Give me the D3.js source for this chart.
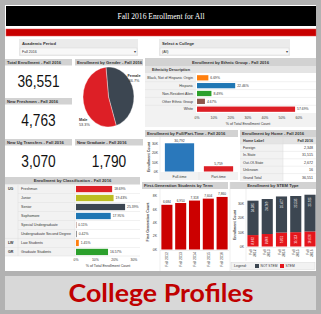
<!DOCTYPE html>
<html><head><meta charset="utf-8">
<script src="https://cdn.jsdelivr.net/npm/d3@7"></script>
<style>body{margin:0;background:#fff}svg{display:block}</style>
</head><body><svg id="c" width="321" height="314"></svg>
<script>
const dashTitle = "Fall 2016 Enrollment for All";
const footerTitle = "College Profiles";
const kpiLabels = ["Total Enrollment - Fall 2016","New Freshmen - Fall 2016","New Ug Transfers - Fall 2016","New Graduate - Fall 2016"];
const kpiValues = [36551, 4763, 3070, 1790];
const genders = ["Female","Male"];
const genderPct = [46.7, 53.3];
const ethnicities = ["Black, Not of Hispanic Origin","Hispanic","Non-Resident Alien","Other Ethnic Group","White"];
const ethnicPct = [6.69, 22.46, 8.49, 4.67, 57.69];
const ethnicTicks = [0,10,20,30,40,50,60];
const attendance = ["Full-time","Part-time"];
const attendanceCount = [30792, 5759];
const homeLabels = ["Foreign","In-State","Out-Of-State","Unknown","Grand Total"];
const homeCounts = [2348, 31515, 2672, 16, 36551];
const classGroups = ["UG","UG","UG","UG","UG","UG","LW","GR"];
const classes = ["Freshman","Junior","Senior","Sophomore","Special Undergraduate","Undergraduate Second Degree","Law Students","Graduate Students"];
const classPct = [18.69, 19.43, 25.39, 17.95, 0.11, 0.42, 1.45, 16.57];
const classTicks = [0,10,20,30];
const terms = ["Fall 2012","Fall 2013","Fall 2014","Fall 2015","Fall 2016"];
const firstGen = [6684, 6950, 7318, 7604, 7860];
const firstGenTicks = [0,2000,4000,6000,8000];
const notStem = [24285, 24709, 25477, 25535, 25925];
const stem = [8062, 8806, 9851, 10113, 10626];
const countTicks = [0,10000,20000,30000];

const svg = d3.select("#c").attr("font-family","Liberation Sans, Arial, sans-serif");
const fmt = d3.format(",");
const kfmt = v => (v/1000) + "K";
const RED = "#dd1f26", DARK = "#3c4651", BLUE = "#2a78bb", LIGHT = "#f2f2f2", LINE = "#dcdcdc";

// frame
svg.append("rect").attr("width",321).attr("height",314).attr("fill","#b2b2b2");
svg.append("rect").attr("x",5).attr("y",5).attr("width",311).attr("height",266).attr("fill","#fff");
svg.append("rect").attr("x",5).attr("y",276).attr("width",311).attr("height",34).attr("fill","#d8d8d8");
svg.append("text").attr("x",161).attr("y",302).attr("text-anchor","middle")
  .attr("font-family","Lato, Open Sans, sans-serif").attr("font-weight","bold").attr("font-size",24)
  .attr("fill","#c00000").attr("textLength",185).attr("lengthAdjust","spacingAndGlyphs").text(footerTitle);

// title
svg.append("rect").attr("x",6).attr("y",6).attr("width",310).attr("height",20).attr("fill","#000");
svg.append("text").attr("x",161).attr("y",19).attr("text-anchor","middle").attr("fill","#fff")
  .attr("font-family","Liberation Serif, Times New Roman, serif").attr("font-size",8.5)
  .attr("textLength",87).attr("lengthAdjust","spacingAndGlyphs").text(dashTitle);
svg.append("rect").attr("x",6).attr("y",29).attr("width",310).attr("height",7).attr("fill","#c80000").attr("stroke","#e05050").attr("stroke-width",0.5);

function filterBox(x, w, label, val){
  svg.append("rect").attr("x",x).attr("y",39).attr("width",w).attr("height",17).attr("fill","#ebebeb");
  svg.append("text").attr("x",x+3).attr("y",45).attr("font-size",4.2).attr("font-weight","bold").attr("fill","#333").text(label);
  svg.append("rect").attr("x",x+1).attr("y",48).attr("width",w-2).attr("height",7).attr("fill","#f8f8f8").attr("stroke","#d0d0d0").attr("stroke-width",0.4);
  svg.append("text").attr("x",x+3).attr("y",53).attr("font-size",3.6).attr("fill","#333").text(val);
  svg.append("text").attr("x",x+w-4).attr("y",53.3).attr("font-size",4).attr("fill","#444").text("▾");
}
filterBox(19,119,"Academic Period","Fall 2016");
filterBox(159,131,"Select a College","(All)");

function header(x,y,w,h,label,align){
  svg.append("rect").attr("x",x).attr("y",y).attr("width",w).attr("height",h).attr("fill","#d2d2d2");
  const t = svg.append("text").attr("y",y+h/2+1.5).attr("font-size",4.2).attr("font-weight","bold").attr("fill","#333").text(label);
  if(align==="middle") t.attr("x",x+w/2).attr("text-anchor","middle"); else t.attr("x",x+2);
}

// KPI panels
const kpiPos = [[5,59,67],[5,98,67],[5,139,67],[75,139,68]];
kpiLabels.forEach((lab,i)=>{
  const [x,y,w] = kpiPos[i];
  header(x,y,w,6.5,lab,"start");
  svg.append("g").attr("transform",`translate(${x+w/2},${y+28}) scale(0.86,1)`)
    .append("text").attr("text-anchor","middle").attr("font-size",16).attr("fill","#111").text(fmt(kpiValues[i]));
});

// Gender pie
header(75,59,68,6.5,"Enrollment by Gender - Fall 2016","start");
const pie = d3.pie().sort(null).startAngle(-0.1).endAngle(2*Math.PI-0.1)(genderPct);
const arc = d3.arc().innerRadius(0).outerRadius(30);
const pg = svg.append("g").attr("transform","translate(108.5,97) scale(0.85,1)");
pg.selectAll("path").data(pie).join("path").attr("d",arc).attr("fill",(d,i)=> i===0?DARK:RED).attr("stroke","#fff").attr("stroke-width",0.4);
const genderLabelPos = [[134,77],[79,121]];
genders.forEach((g,i)=>{
  const t = svg.append("text").attr("font-size",3.8).attr("fill","#333").attr("font-weight","bold");
  t.append("tspan").attr("x",genderLabelPos[i][0]).attr("y",genderLabelPos[i][1]).attr("text-anchor", i===0?"middle":"start").text(g);
  t.append("tspan").attr("x",genderLabelPos[i][0]).attr("y",genderLabelPos[i][1]+5).attr("text-anchor", i===0?"middle":"start").attr("font-weight","normal").text(genderPct[i].toFixed(1)+"%");
});

// Ethnic group
header(145,58,171,8,"Enrollment by Ethnic Group - Fall 2016","middle");
svg.append("rect").attr("x",145).attr("y",66).attr("width",171).attr("height",7).attr("fill","#e4e4e4");
svg.append("text").attr("x",171).attr("y",71).attr("text-anchor","middle").attr("font-size",3.8).attr("font-weight","bold").attr("fill","#333").text("Ethnicity Description");
svg.append("rect").attr("x",145).attr("y",73).attr("width",51).attr("height",40).attr("fill",LIGHT);
const yE = d3.scaleBand().domain(ethnicities).range([74,113]).paddingInner(0.33).paddingOuter(0.15);
const xE = d3.scaleLinear().domain([0,60]).range([197,299]);
const ethColors = ["#ff7f0e","#1f77b4","#2ca02c","#8c564b","#dd1f26"];
ethnicities.forEach((e,i)=>{
  const yc = yE(e)+yE.bandwidth()/2;
  if(i>0) svg.append("line").attr("x1",145).attr("x2",316).attr("y1",yE(e)-yE.step()*yE.paddingInner()/2).attr("y2",yE(e)-yE.step()*yE.paddingInner()/2).attr("stroke",LINE).attr("stroke-width",0.4);
  svg.append("text").attr("x",193).attr("y",yc+1.3).attr("text-anchor","end").attr("font-size",3.6).attr("fill","#333").text(e);
  svg.append("rect").attr("x",xE(0)).attr("y",yE(e)).attr("width",xE(ethnicPct[i])-xE(0)).attr("height",yE.bandwidth()).attr("fill",ethColors[i]);
  svg.append("text").attr("x",xE(ethnicPct[i])+2).attr("y",yc+1.3).attr("font-size",3.4).attr("fill","#333").text(ethnicPct[i].toFixed(2)+"%");
});
svg.append("rect").attr("x",145).attr("y",113).attr("width",171).attr("height",14).attr("fill",LIGHT);
ethnicTicks.forEach(t=>svg.append("text").attr("x",xE(t)).attr("y",118.5).attr("text-anchor","middle").attr("font-size",3.4).attr("fill","#333").text(t+"%"));
svg.append("text").attr("x",248).attr("y",124.5).attr("text-anchor","middle").attr("font-size",3.6).attr("fill","#333").text("% of Total Enrollment Count");

// Full/Part-time
header(145,130,93,7,"Enrollment by Full/Part-Time - Fall 2016","start");
const yF = d3.scaleLinear().domain([0,30000]).range([171.5,144]);
const xF = d3.scaleBand().domain(attendance).range([160,238]).paddingInner(0.25).paddingOuter(0.125);
countTicks.forEach(t=>svg.append("text").attr("x",158).attr("y",yF(t)+1.2).attr("text-anchor","end").attr("font-size",3.4).attr("fill","#333").text(kfmt(t)));
svg.append("text").attr("transform","translate(150,157) rotate(-90)").attr("text-anchor","middle").attr("font-size",3.6).attr("font-weight","bold").attr("fill","#444").text("Enrollment Count");
svg.append("line").attr("x1",160).attr("x2",160).attr("y1",137).attr("y2",180).attr("stroke",LINE).attr("stroke-width",0.5);
svg.append("rect").attr("x",160).attr("y",172).attr("width",78).attr("height",8).attr("fill",LIGHT);
attendance.forEach((a,i)=>{
  svg.append("rect").attr("x",xF(a)).attr("y",yF(attendanceCount[i])).attr("width",xF.bandwidth()).attr("height",yF(0)-yF(attendanceCount[i])).attr("fill",i===0?BLUE:RED);
  svg.append("text").attr("x",xF(a)+xF.bandwidth()/2).attr("y",yF(attendanceCount[i])-1.5).attr("text-anchor","middle").attr("font-size",3.4).attr("fill","#333").text(fmt(attendanceCount[i]));
  svg.append("text").attr("x",xF(a)+xF.bandwidth()/2).attr("y",177.5).attr("text-anchor","middle").attr("font-size",3.6).attr("fill","#333").text(a);
});
svg.append("line").attr("x1",199).attr("x2",199).attr("y1",172).attr("y2",180).attr("stroke",LINE).attr("stroke-width",0.5);

// Home table
header(240,130,76,7,"Enrollment by Home - Fall 2016","start");
svg.append("rect").attr("x",240).attr("y",137).attr("width",76).attr("height",7).attr("fill","#e4e4e4");
svg.append("text").attr("x",243).attr("y",141.8).attr("font-size",3.7).attr("font-weight","bold").attr("fill","#333").text("Home Label");
svg.append("text").attr("x",313).attr("y",141.8).attr("text-anchor","end").attr("font-size",3.7).attr("font-weight","bold").attr("fill","#333").text("Fall 2016");
const yH = d3.scaleBand().domain(homeLabels).range([144,181]);
svg.append("rect").attr("x",240).attr("y",144).attr("width",43).attr("height",37).attr("fill",LIGHT);
svg.append("line").attr("x1",283).attr("x2",283).attr("y1",137).attr("y2",181).attr("stroke",LINE).attr("stroke-width",0.5);
homeLabels.forEach((h,i)=>{
  svg.append("line").attr("x1",240).attr("x2",316).attr("y1",yH(h)).attr("y2",yH(h)).attr("stroke",LINE).attr("stroke-width",0.4);
  svg.append("text").attr("x",243).attr("y",yH(h)+yH.bandwidth()/2+1.3).attr("font-size",3.6).attr("fill","#333").text(h);
  svg.append("text").attr("x",313).attr("y",yH(h)+yH.bandwidth()/2+1.3).attr("text-anchor","end").attr("font-size",3.6).attr("fill","#333").text(fmt(homeCounts[i]));
});

// Classification
header(5,177,135,7.5,"Enrollment by Classification - Fall 2016","middle");
const yC = d3.scaleBand().domain(classes).range([185,256]).paddingInner(0.3).paddingOuter(0.1);
const xC = d3.scaleLinear().domain([0,30]).range([76,134]);
const classColors = ["#dd1f26","#bcbd22",DARK,"#1f77b4","#8c564b","#7f7f7f","#ff7f0e","#2ca02c"];
svg.append("rect").attr("x",5).attr("y",185).attr("width",70).attr("height",71).attr("fill",LIGHT);
svg.append("line").attr("x1",18).attr("x2",18).attr("y1",185).attr("y2",256).attr("stroke",LINE).attr("stroke-width",0.5);
svg.append("line").attr("x1",75).attr("x2",75).attr("y1",185).attr("y2",256).attr("stroke",LINE).attr("stroke-width",0.5);
classes.forEach((c,i)=>{
  const top = yC(c)-yC.step()*yC.paddingInner()/2;
  const yc = yC(c)+yC.bandwidth()/2;
  if(i>0) svg.append("line").attr("x1",classGroups[i]!==classGroups[i-1]?5:18).attr("x2",140).attr("y1",top).attr("y2",top).attr("stroke",LINE).attr("stroke-width",0.4);
  if(i===0||classGroups[i]!==classGroups[i-1]) svg.append("text").attr("x",8).attr("y",yc+1.3).attr("font-size",3.6).attr("font-weight","bold").attr("fill","#333").text(classGroups[i]);
  svg.append("text").attr("x",21).attr("y",yc+1.3).attr("font-size",3.6).attr("fill","#333").text(c);
  svg.append("rect").attr("x",xC(0)).attr("y",yC(c)).attr("width",Math.max(0.4,xC(classPct[i])-xC(0))).attr("height",yC.bandwidth()).attr("fill",classColors[i]);
  svg.append("text").attr("x",xC(classPct[i])+2).attr("y",yc+1.3).attr("font-size",3.4).attr("fill","#333").text(classPct[i].toFixed(2)+"%");
});
svg.append("line").attr("x1",5).attr("x2",140).attr("y1",256).attr("y2",256).attr("stroke",LINE).attr("stroke-width",0.5);
classTicks.forEach(t=>svg.append("text").attr("x",xC(t)).attr("y",261).attr("text-anchor","middle").attr("font-size",3.4).attr("fill","#333").text(t+"%"));
svg.append("text").attr("x",108).attr("y",267).attr("text-anchor","middle").attr("font-size",3.6).attr("fill","#333").text("% of Total Enrollment Count");

// First generation
header(142,182,86,7,"First-Generation Students by Term","start");
const yG = d3.scaleLinear().domain([0,8000]).range([249.5,196]);
const xG = d3.scaleBand().domain(terms).range([160,229]).paddingInner(0.2).paddingOuter(0.1);
firstGenTicks.forEach(t=>svg.append("text").attr("x",157).attr("y",yG(t)+1.2).attr("text-anchor","end").attr("font-size",3.4).attr("fill","#333").text(kfmt(t)));
svg.append("text").attr("transform","translate(149,222) rotate(-90)").attr("text-anchor","middle").attr("font-size",3.6).attr("font-weight","bold").attr("fill","#444").text("First Generation Count");
svg.append("line").attr("x1",160).attr("x2",160).attr("y1",189).attr("y2",271).attr("stroke",LINE).attr("stroke-width",0.5);
svg.append("line").attr("x1",160).attr("x2",229).attr("y1",250.5).attr("y2",250.5).attr("stroke",LINE).attr("stroke-width",0.5);
terms.forEach((t,i)=>{
  svg.append("rect").attr("x",xG(t)).attr("y",yG(firstGen[i])).attr("width",xG.bandwidth()).attr("height",yG(0)-yG(firstGen[i])).attr("fill","#cc0000");
  svg.append("text").attr("x",xG(t)+xG.bandwidth()/2).attr("y",yG(firstGen[i])-1.5).attr("text-anchor","middle").attr("font-size",3.2).attr("fill","#333").text(fmt(firstGen[i]));
  svg.append("text").attr("transform",`translate(${xG(t)+xG.bandwidth()/2+1.2},252) rotate(-90)`).attr("text-anchor","end").attr("font-size",3.6).attr("fill","#333").text(t);
});

// STEM
header(230,182,86,7,"Enrollment by STEM Type","middle");
const yS = d3.scaleLinear().domain([0,30000]).range([246.5,204]);
const xS = d3.scaleBand().domain(terms).range([246,317]).paddingInner(0.22).paddingOuter(0.1);
countTicks.forEach(t=>svg.append("text").attr("x",244).attr("y",yS(t)+1.2).attr("text-anchor","end").attr("font-size",3.4).attr("fill","#333").text(kfmt(t)));
svg.append("text").attr("transform","translate(236,225) rotate(-90)").attr("text-anchor","middle").attr("font-size",3.6).attr("font-weight","bold").attr("fill","#444").text("Enrollment Count");
svg.append("line").attr("x1",230).attr("x2",230).attr("y1",182).attr("y2",271).attr("stroke",LINE).attr("stroke-width",0.5);
svg.append("line").attr("x1",246).attr("x2",246).attr("y1",189).attr("y2",261).attr("stroke",LINE).attr("stroke-width",0.5);
svg.append("line").attr("x1",246).attr("x2",316).attr("y1",247.5).attr("y2",247.5).attr("stroke",LINE).attr("stroke-width",0.5);
const stemRows = terms.map((t,i)=>({term:t, "STEM":stem[i], "NOT STEM":notStem[i]}));
const series = d3.stack().keys(["STEM","NOT STEM"])(stemRows);
series.forEach(s=>{
  s.forEach(d=>{
    const x = xS(d.data.term), w = xS.bandwidth();
    svg.append("rect").attr("x",x).attr("y",yS(d[1])).attr("width",w).attr("height",yS(d[0])-yS(d[1])).attr("fill",s.key==="STEM"?"#e4161c":DARK);
    const v = d.data[s.key];
    if(s.key==="NOT STEM"){
      svg.append("text").attr("transform",`translate(${x+w/2+1.1},${yS(d[1])+2.5}) rotate(-90)`).attr("text-anchor","end").attr("font-size",3).attr("fill","#fff").text(fmt(v));
    } else {
      svg.append("text").attr("transform",`translate(${x+w/2+1.1},${(yS(d[0])+yS(d[1]))/2}) rotate(-90)`).attr("text-anchor","middle").attr("font-size",3).attr("fill","#fff").text(fmt(v));
    }
  });
});
terms.forEach(t=>{
  const parts = t.split(" ");
  parts.forEach((p,j)=>svg.append("text").attr("transform",`translate(${xS(t)+xS.bandwidth()/2-0.8+j*3.8},249.5) rotate(-90)`).attr("text-anchor","end").attr("font-size",3.3).attr("fill","#333").text(p));
});
svg.append("rect").attr("x",231).attr("y",262.5).attr("width",84).attr("height",7).attr("fill",LIGHT).attr("stroke","#cfcfcf").attr("stroke-width",0.4);
svg.append("text").attr("x",234).attr("y",267.3).attr("font-size",3.5).attr("fill","#333").text("Legend:");
const legendKeys = ["NOT STEM","STEM"], legendX = [255,280];
legendKeys.forEach((k,i)=>{
  svg.append("rect").attr("x",legendX[i]).attr("y",264).attr("width",4).attr("height",4).attr("fill",k==="STEM"?"#e4161c":DARK);
  svg.append("text").attr("x",legendX[i]+5.5).attr("y",267.3).attr("font-size",3.3).attr("fill","#333").text(k);
});
</script></body></html>
